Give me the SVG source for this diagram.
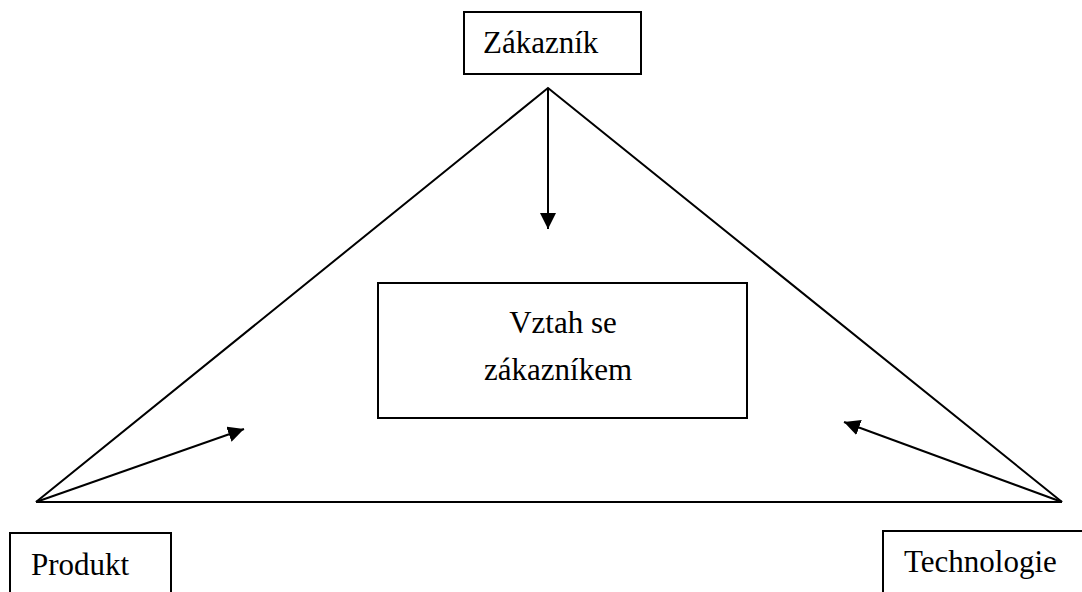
<svg xmlns="http://www.w3.org/2000/svg" width="1082" height="592" viewBox="0 0 1082 592">
<defs>
<marker id="ah" markerWidth="16" markerHeight="16" refX="16" refY="8" orient="auto" markerUnits="userSpaceOnUse">
<path d="M0,0 L16,8 L0,16 Z" fill="#000"/>
</marker>
</defs>
<style>
.box{fill:#fff;stroke:#000;stroke-width:2}
.ln{stroke:#000;stroke-width:2;fill:none}
.t{font-family:"Liberation Serif","Times New Roman",serif;font-size:31px;fill:#000}
</style>
<rect width="1082" height="592" fill="#fff"/>
<g id="connectors">
<polyline class="ln" points="36,502 548,88 1062,502"/>
<line class="ln" x1="36" y1="502" x2="1062" y2="502"/>
<line class="ln" x1="548" y1="88" x2="548" y2="229" marker-end="url(#ah)"/>
<line class="ln" x1="36" y1="502" x2="244" y2="429" marker-end="url(#ah)"/>
<line class="ln" x1="1062" y1="502" x2="844" y2="422" marker-end="url(#ah)"/>
</g>
<g id="zakaznik">
<rect class="box" x="464" y="12" width="177" height="62"/>
<text class="t" x="483" y="53">Zákazník</text>
</g>
<g id="vztah">
<rect class="box" x="378" y="283" width="369" height="135"/>
<text class="t" x="563" y="333" text-anchor="middle">Vztah se</text>
<text class="t" x="558" y="380" text-anchor="middle">zákazníkem</text>
</g>
<g id="produkt">
<rect class="box" x="10" y="533" width="161" height="70"/>
<text class="t" x="31" y="575">Produkt</text>
</g>
<g id="technologie">
<rect class="box" x="883" y="531" width="210" height="70"/>
<text class="t" x="904" y="572">Technologie</text>
</g>
</svg>
